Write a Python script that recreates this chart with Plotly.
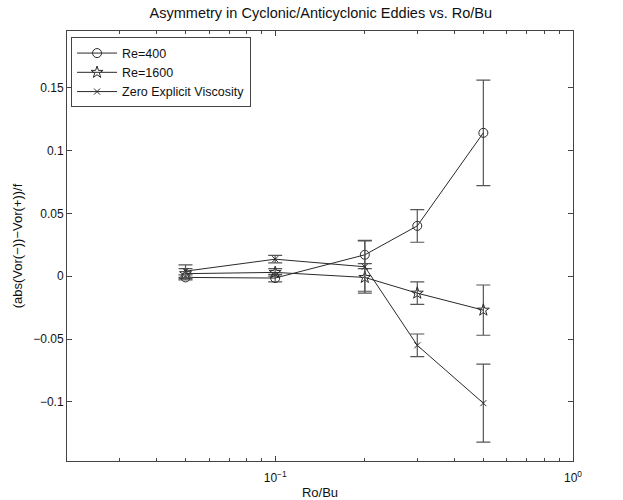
import plotly.graph_objects as go

# Ro/Bu values shared by every run
ro_bu = [0.05, 0.1, 0.2, 0.3, 0.5]

# Asymmetry (abs(Vor(-)) - Vor(+))/f and error-bar half widths
re400 = [-0.001, -0.0015, 0.017, 0.040, 0.114]
re400_err = [0.002, 0.003, 0.011, 0.013, 0.042]

re1600 = [0.002, 0.003, -0.001, -0.0135, -0.027]
re1600_err = [0.004, 0.003, 0.011, 0.009, 0.020]

zero_visc = [0.004, 0.0135, 0.0075, -0.055, -0.101]
zero_visc_err = [0.005, 0.003, 0.021, 0.009, 0.031]

series_names = ["Re=400", "Re=1600", "Zero Explicit Viscosity"]

y_ticks = [-0.1, -0.05, 0, 0.05, 0.1, 0.15]
y_ticktext = ["\u22120.1", "\u22120.05", "0", "0.05", "0.1", "0.15"]
x_ticks = [0.1, 1]
x_ticktext = ["10<sup>\u22121</sup>", "10<sup>0</sup>"]
x_minor = [0.02, 0.03, 0.04, 0.05, 0.06, 0.07, 0.08, 0.09,
           0.2, 0.3, 0.4, 0.5, 0.6, 0.7, 0.8, 0.9]

FONT = "Liberation Sans, Arial, Helvetica, sans-serif"
LINE = "#2a2a2a"
ERR = "#555555"

fig = go.Figure()

styles = [
    (re400, re400_err, dict(symbol="circle-open", size=9, color=LINE, line=dict(width=1, color=LINE))),
    (re1600, re1600_err, dict(symbol="star-open", size=9, color=LINE, line=dict(width=1, color=LINE))),
    (zero_visc, zero_visc_err, dict(symbol="x-thin-open", size=6, color=LINE, line=dict(width=1, color=LINE))),
]

for name, (vals, errs, marker) in zip(series_names, styles):
    fig.add_trace(go.Scatter(
        x=ro_bu, y=vals, name=name, mode="lines+markers",
        line=dict(color=LINE, width=1),
        marker=marker,
        error_y=dict(type="data", array=errs, visible=True,
                     color=ERR, thickness=1.2, width=7),
    ))

axis_common = dict(
    showline=True, linecolor="#444", linewidth=1, mirror="allticks",
    ticks="inside", ticklen=5, tickcolor="#444", showgrid=False, zeroline=False,
    tickfont=dict(family=FONT, size=12, color="#111"), automargin=False,
)

fig.update_xaxes(
    type="log", range=[-1.699, 0],
    tickvals=x_ticks, ticktext=x_ticktext, ticklabelstandoff=6,
    minor=dict(tickvals=x_minor, ticks="inside", ticklen=3, tickcolor="#444"),
    title=dict(text="Ro/Bu", font=dict(family=FONT, size=13, color="#111"), standoff=4),
    **axis_common,
)
fig.update_yaxes(
    range=[-0.147, 0.195],
    tickvals=y_ticks, ticktext=y_ticktext,
    title=dict(text="(abs(Vor(\u2212))\u2212Vor(+))/f", font=dict(family=FONT, size=13, color="#111"), standoff=7),
    **axis_common,
)

fig.update_layout(
    width=623, height=500,
    margin=dict(l=67, r=50, t=31, b=39),
    paper_bgcolor="white", plot_bgcolor="white",
    title=dict(text="Asymmetry in Cyclonic/Anticyclonic Eddies vs. Ro/Bu",
               x=0.515, xanchor="center", y=0.975, yanchor="middle",
               font=dict(family=FONT, size=14.5, color="#111")),
    legend=dict(x=0.008, y=0.985, xanchor="left", yanchor="top",
                bgcolor="white", bordercolor="#444", borderwidth=1,
                font=dict(family=FONT, size=12.5, color="#111"),
                tracegroupgap=0, itemwidth=40),
    showlegend=True,
)

fig.write_html("out.html")
